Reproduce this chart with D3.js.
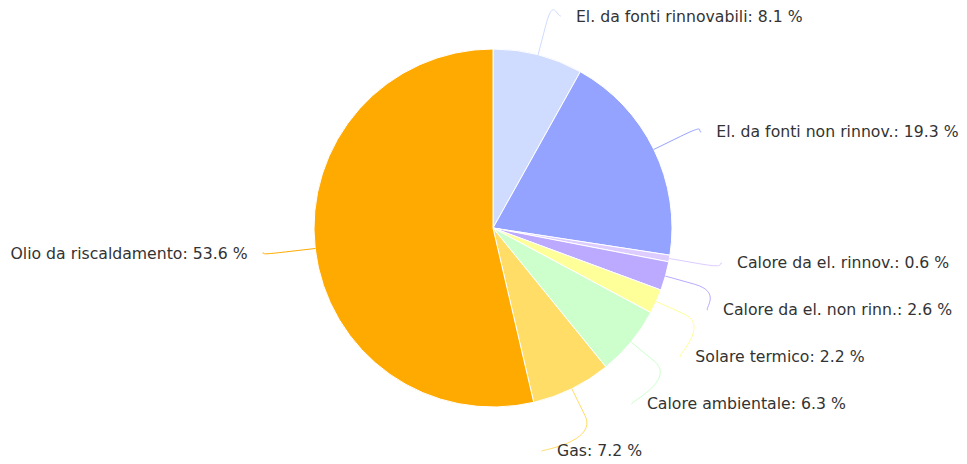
<!DOCTYPE html>
<html>
<head>
<meta charset="utf-8">
<script src="https://cdn.jsdelivr.net/npm/d3@7"></script>
<style>
  body { margin: 0; background: #fff; }
  text { font-family: "DejaVu Sans", sans-serif; font-size: 15.7px; fill: #333; }
</style>
</head>
<body>
<div class="pie-chart"></div>
<script>
const width = 967;
const height = 464;

// DATA ----------------------------------------
const categories = [
	'El. da fonti rinnovabili',
	'El. da fonti non rinnov.',
	'Calore da el. rinnov.',
	'Calore da el. non rinn.',
	'Solare termico',
	'Calore ambientale',
	'Gas',
	'Olio da riscaldamento'
];
const values = [8.1, 19.3, 0.6, 2.6, 2.2, 6.3, 7.2, 53.6];
const colors = ['#d0dcff', '#94a3ff', '#ddccff', '#bbaaff', '#ffff99', '#ccffcc', '#ffdd66', '#ffaa00'];

const cx = 493, cy = 228, r = 179;
const labelDist = 40;   // natural label radius beyond the slice
const labelGap = 47;    // min vertical space between labels
const ellA = 247, ellB = 225, minDx = 64; // label curve

const svg = d3.select('.pie-chart').append('svg')
	.attr('width', width)
	.attr('height', height);

const g = svg.append('g')
	.attr('transform', `translate(${cx},${cy})`);

const pie = d3.pie().sort(null).value(d => d.value);
const arc = d3.arc().innerRadius(0).outerRadius(r);

const data = categories.map((c, i) => ({ name: c, value: values[i], color: colors[i] }));
const arcs = pie(data);

g.selectAll('path.slice')
	.data(arcs)
	.enter()
	.append('path')
	.attr('class', 'slice')
	.attr('d', arc)
	.attr('fill', d => d.data.color)
	.attr('stroke', '#fff')
	.attr('stroke-width', 1)
	.attr('stroke-linejoin', 'round');

// LABEL LAYOUT ----------------------------------
function polar(a, rad) {
	return [Math.sin(a) * rad, -Math.cos(a) * rad];
}

const labels = arcs.map(d => {
	const mid = (d.startAngle + d.endAngle) / 2;
	const right = mid < Math.PI;
	return { d, mid, right, y: polar(mid, r + labelDist)[1] };
});

// push overlapping labels down on each side
[true, false].forEach(side => {
	const list = labels.filter(l => l.right === side).sort((a, b) => a.y - b.y);
	list.forEach(l => { if (l.y < -cy + 15) l.y = -cy + 15; });
	for (let i = 1; i < list.length; i++) {
		if (list[i].y - list[i - 1].y < labelGap) list[i].y = list[i - 1].y + labelGap;
	}
	const maxY = height - cy - 13;
	for (let i = list.length - 1; i >= 0; i--) {
		if (list[i].y > maxY) list[i].y = maxY;
		if (i < list.length - 1 && list[i + 1].y - list[i].y < labelGap) list[i].y = list[i + 1].y - labelGap;
	}
});

labels.forEach(l => {
	const t = Math.max(0, 1 - (l.y / ellB) * (l.y / ellB));
	const dx = Math.max(minDx, ellA * Math.sqrt(t));
	l.x = l.right ? dx : -dx;
	l.lx = l.right ? l.x - 15 : l.x + 15;
});

// connectors
g.selectAll('path.connector')
	.data(labels)
	.enter()
	.append('path')
	.attr('class', 'connector')
	.attr('fill', 'none')
	.attr('stroke', l => l.d.data.color)
	.attr('stroke-width', 1)
	.attr('d', l => {
		const touch = polar(l.mid, r);
		const brk = polar(l.mid, r + 30);
		const c1x = l.lx + (l.right ? -5 : 5);
		return `M${l.lx},${l.y} C${c1x},${l.y} ${2 * brk[0] - touch[0]},${2 * brk[1] - touch[1]} ${brk[0]},${brk[1]} L${touch[0]},${touch[1]}`;
	});

g.selectAll('text.label')
	.data(labels)
	.enter()
	.append('text')
	.attr('class', 'label')
	.attr('x', l => l.x)
	.attr('y', l => l.y)
	.attr('dy', '0.35em')
	.attr('text-anchor', l => l.right ? 'start' : 'end')
	.text(l => `${l.d.data.name}: ${l.d.data.value} %`);
</script>
</body>
</html>
